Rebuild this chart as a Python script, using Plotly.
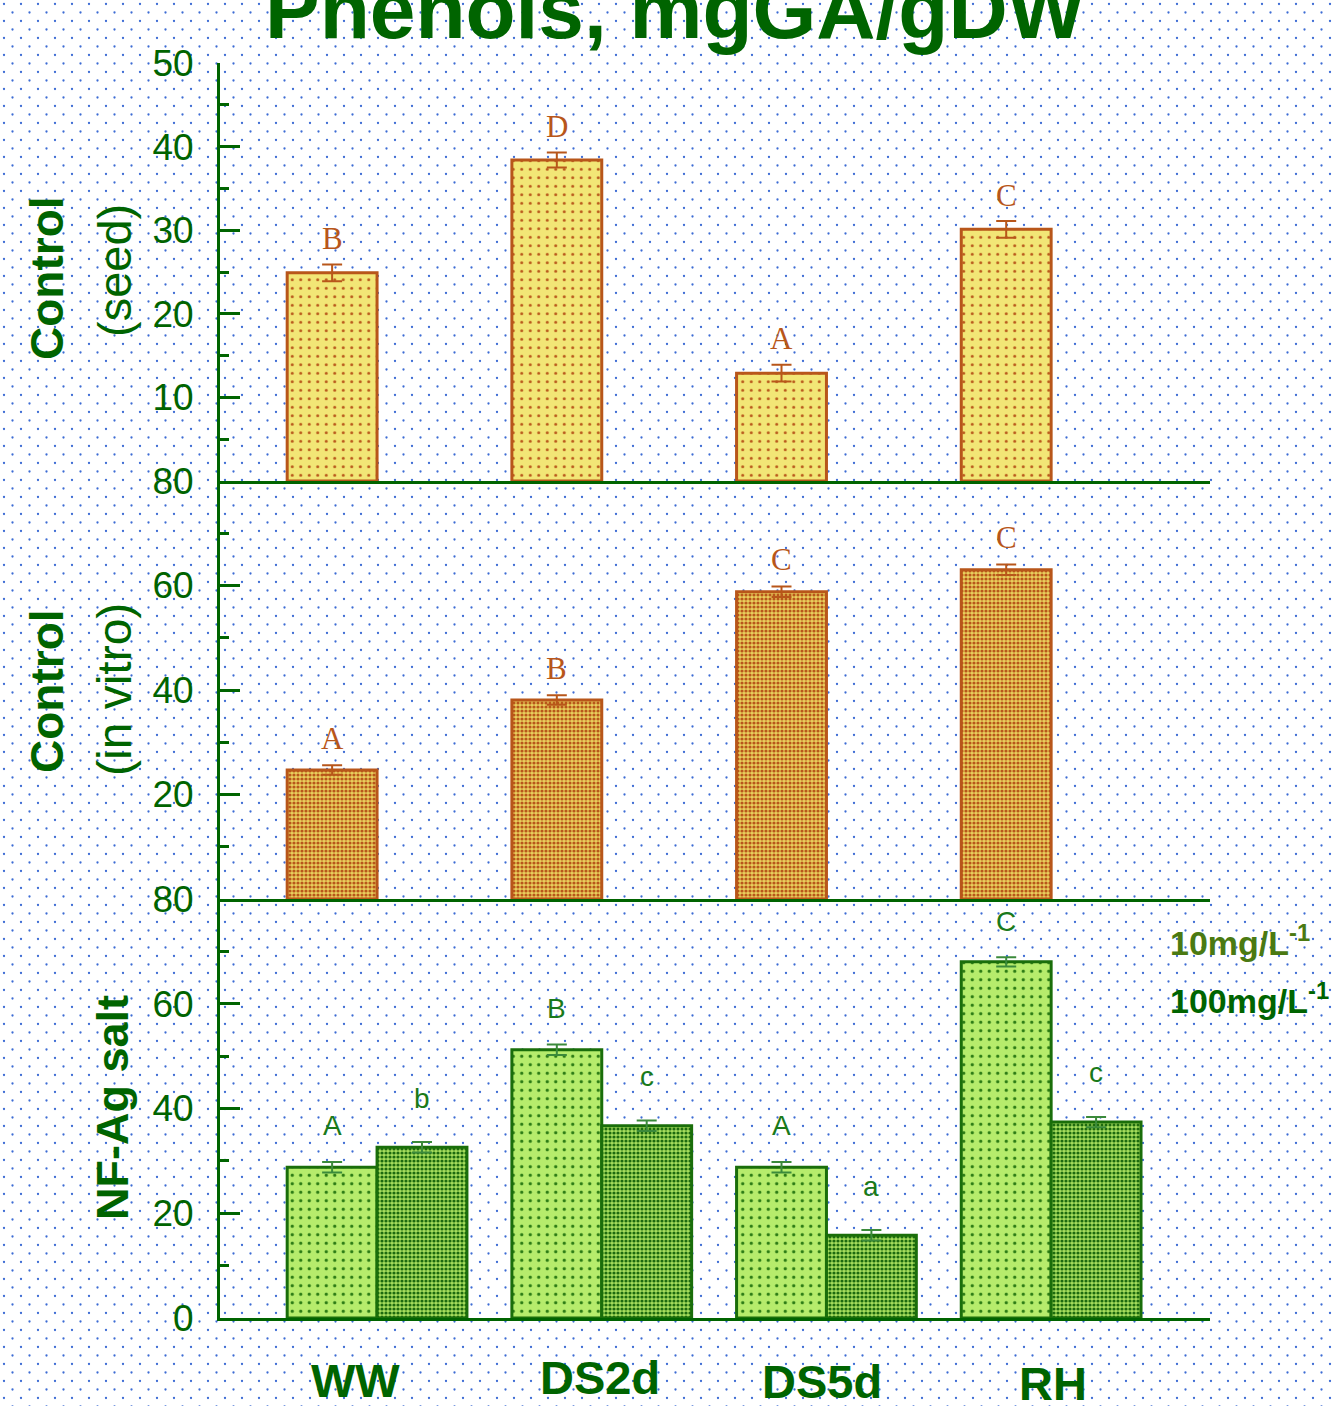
import base64
import plotly.graph_objects as go

# ---- data -------------------------------------------------------------
categories = ["WW", "DS2d", "DS5d", "RH"]

seed_vals = [24.9, 38.4, 12.9, 30.1]
seed_err = [1.0, 0.9, 1.0, 1.0]
seed_letters = ["B", "D", "A", "C"]

vitro_vals = [24.7, 38.1, 58.8, 63.0]
vitro_err = [0.9, 0.9, 1.0, 1.0]
vitro_letters = ["A", "B", "C", "C"]

salt10_vals = [28.8, 51.2, 28.8, 68.0]
salt10_err = [1.0, 1.0, 1.0, 0.9]
salt10_letters = ["A", "B", "A", "C"]

salt100_vals = [32.6, 36.7, 15.8, 37.4]
salt100_err = [1.0, 1.0, 1.0, 1.0]
salt100_letters = ["b", "c", "a", "c"]

title_text = "Phenols, mgGA/gDW"
legend_labels = ["10mg/L<sup>-1</sup>", "100mg/L<sup>-1</sup>"]

# ---- page geometry ------------------------------------------------------
W, H = 1336, 1406
GREEN = "#006400"
BROWN = "#b8561a"
DKGREEN = "#1a6e0a"


def px_x(x):
    return x / W


def px_y(y):
    return 1 - y / H


x_dom = [px_x(220), px_x(1210)]
panels = {  # (top px, bottom px)
    1: (63, 481),
    2: (481, 899),
    3: (899, 1318),
}
xpos = list(range(len(categories)))
xrange_ = [-0.699, 3.707]
BW = 0.4

fig = go.Figure()

# dotted page background
svg = (
    f'<svg xmlns="http://www.w3.org/2000/svg" width="{W}" height="{H}">'
    '<defs><pattern id="d" width="17" height="17" patternUnits="userSpaceOnUse">'
    '<circle cx="4" cy="4" r="1.15" fill="#3d6cd4"/>'
    '<circle cx="12.5" cy="12.5" r="1.15" fill="#3d6cd4"/>'
    '</pattern></defs><rect width="100%" height="100%" fill="url(#d)"/></svg>'
)
bg_uri = "data:image/svg+xml;base64," + base64.b64encode(svg.encode()).decode()


def add_bars(vals, errs, axis_idx, offset, fill, fg, psize, solid, line_col, err_col):
    fig.add_trace(go.Bar(
        x=xpos, y=vals, width=BW, offset=offset,
        xaxis="x" if axis_idx == 1 else f"x{axis_idx}",
        yaxis="y" if axis_idx == 1 else f"y{axis_idx}",
        marker=dict(
            color=fill,
            line=dict(color=line_col, width=3),
            pattern=dict(shape=".", bgcolor=fill, fgcolor=fg, size=psize,
                         solidity=solid, fillmode="replace"),
        ),
        error_y=dict(type="data", array=errs, color=err_col, thickness=2, width=10),
        showlegend=False,
    ))


# Control (seed)
add_bars(seed_vals, seed_err, 1, -BW, "#f2e676", BROWN, 8.5, 0.1, BROWN, BROWN)
# Control (in vitro)
add_bars(vitro_vals, vitro_err, 2, -BW, "#e9cf5c", BROWN, 4, 0.5, BROWN, BROWN)
# NF-Ag salt, two concentrations
add_bars(salt10_vals, salt10_err, 3, -BW, "#b6ec6c", "#2a7a14", 8.5, 0.12, DKGREEN, "#3b8a3b")
add_bars(salt100_vals, salt100_err, 3, 0, "#a6de5c", "#1c6a0e", 4, 0.5, DKGREEN, "#3b8a3b")

layout = dict(
    width=W, height=H,
    margin=dict(l=0, r=0, t=0, b=0, autoexpand=False),
    paper_bgcolor="white",
    plot_bgcolor="rgba(0,0,0,0)",
    barmode="overlay",
    images=[dict(source=bg_uri, xref="paper", yref="paper", x=0, y=1,
                 sizex=1, sizey=1, sizing="stretch", layer="below")],
    font=dict(family="Liberation Sans, Arial, sans-serif", color=GREEN),
)

ytick_sets = {
    1: dict(range=[0, 50], tickvals=[10, 20, 30, 40, 50], minor=5),
    2: dict(range=[0, 80], tickvals=[20, 40, 60, 80], minor=10),
    3: dict(range=[0, 80], tickvals=[0, 20, 40, 60, 80], minor=10),
}

for i, (top, bot) in panels.items():
    sfx = "" if i == 1 else str(i)
    ydom = [px_y(bot), px_y(top)]
    layout[f"xaxis{sfx}"] = dict(
        domain=x_dom, range=xrange_, anchor=f"y{sfx}",
        showline=True, linecolor=GREEN, linewidth=3,
        showticklabels=False, ticks="", showgrid=False, zeroline=False,
        automargin=False,
    )
    t = ytick_sets[i]
    layout[f"yaxis{sfx}"] = dict(
        domain=ydom, range=t["range"], anchor=f"x{sfx}",
        showline=True, linecolor=GREEN, linewidth=3,
        tickmode="array", tickvals=t["tickvals"],
        ticks="inside", ticklen=20, tickwidth=3, tickcolor=GREEN,
        minor=dict(ticks="inside", ticklen=9, tickwidth=3, tickcolor=GREEN,
                   tickmode="linear", tick0=0, dtick=t["minor"]),
        tickfont=dict(size=37, color=GREEN),
        ticklabelstandoff=16,
        showgrid=False, zeroline=False, automargin=False,
    )

fig.update_layout(**layout)

ann = []

# significance letters above bars
serif = "Liberation Serif, Times New Roman, serif"
sans = "Liberation Sans, Arial, sans-serif"


def add_letters(vals, errs, letters, axis_idx, dx, font_fam, size, color, shift):
    sfx = "" if axis_idx == 1 else str(axis_idx)
    for xi, v, e, l in zip(xpos, vals, errs, letters):
        ann.append(dict(
            x=xi + dx, y=v + e, xref=f"x{sfx}", yref=f"y{sfx}",
            text=l, showarrow=False, xanchor="center", yanchor="middle", yshift=shift,
            font=dict(family=font_fam, size=size, color=color),
        ))


add_letters(seed_vals, seed_err, seed_letters, 1, -BW / 2, serif, 31, BROWN, 26)
add_letters(vitro_vals, vitro_err, vitro_letters, 2, -BW / 2, serif, 31, BROWN, 27)
add_letters(salt10_vals, salt10_err, salt10_letters, 3, -BW / 2, sans, 28, "#1a7a1a", 36)
add_letters(salt100_vals, salt100_err, salt100_letters, 3, BW / 2, sans, 28, "#1a7a1a", 44)

# category labels under the bottom panel
label_shift = [-22, -2, -4, 2]
label_dy = [1380, 1377, 1381, 1383]
for xi, c, sx, yy in zip(xpos, categories, label_shift, label_dy):
    ann.append(dict(
        x=xi, y=px_y(yy), xref="x3", yref="paper", text=f"<b>{c}</b>",
        showarrow=False, xshift=sx, xanchor="center", yanchor="middle",
        font=dict(size=47, color=GREEN),
    ))


def side_title(x, y, text, size):
    return dict(x=px_x(x), y=px_y(y), xref="paper", yref="paper", text=text,
                textangle=-90, showarrow=False, xanchor="center", yanchor="middle",
                font=dict(size=size, color=GREEN))


# panel titles
ann += [
    side_title(47, 278, "<b>Control</b>", 46),
    side_title(114, 271, "(seed)", 47),
    side_title(47, 691, "<b>Control</b>", 46),
    side_title(114, 690, "(in vitro)", 48),
    side_title(112, 1108, "<b>NF-Ag salt</b>", 45),
]

# concentration key
ann += [
    dict(x=px_x(1168), y=px_y(940), xref="paper", yref="paper",
         xanchor="left", yanchor="middle",
         text=f"<b>{legend_labels[0]}</b>", showarrow=False,
         font=dict(size=34, color="#4b7a12")),
    dict(x=px_x(1168), y=px_y(998), xref="paper", yref="paper",
         xanchor="left", yanchor="middle",
         text=f"<b>{legend_labels[1]}</b>", showarrow=False,
         font=dict(size=34, color=GREEN)),
]

# main title, partly clipped by the top edge
ann.append(dict(
    x=px_x(675), y=px_y(9), xref="paper", yref="paper", text=f"<b>{title_text}</b>",
    showarrow=False, xanchor="center", yanchor="middle",
    font=dict(size=82, color=GREEN),
))

fig.update_layout(annotations=ann)

fig.write_html("out.html")
